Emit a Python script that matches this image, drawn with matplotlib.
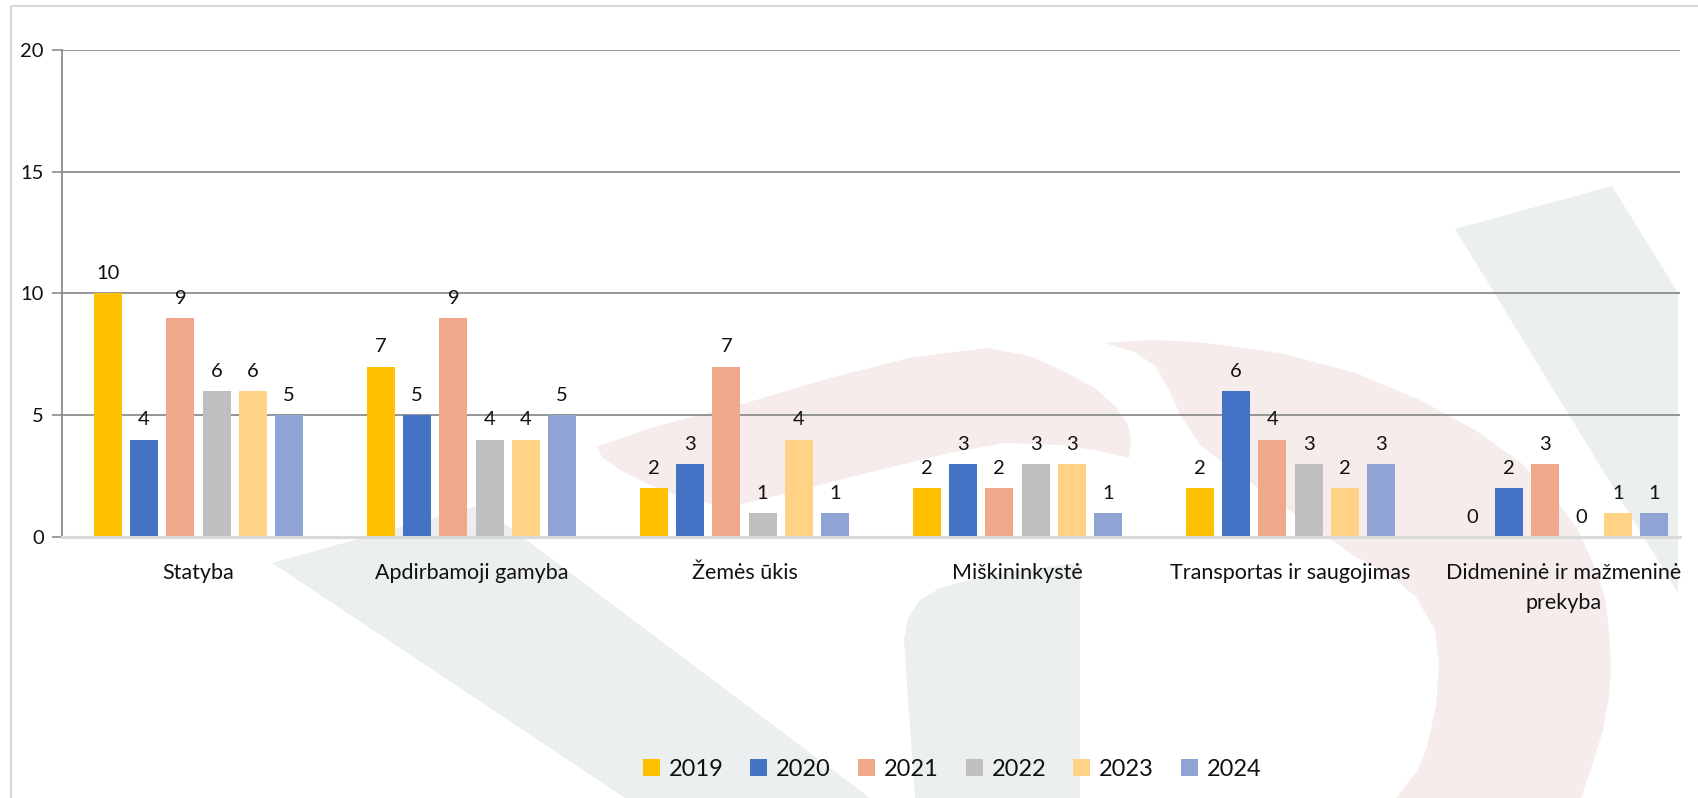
import matplotlib
matplotlib.use("Agg")
import matplotlib.pyplot as plt
from matplotlib.patches import Polygon, Rectangle
import numpy as np

plt.rcParams['font.family'] = ['Lato', 'DejaVu Sans']

categories = ["Statyba", "Apdirbamoji gamyba", "Žemės ūkis", "Miškininkystė",
              "Transportas ir saugojimas", "Didmeninė ir mažmeninė\nprekyba"]
years = ["2019", "2020", "2021", "2022", "2023", "2024"]
v2019 = [10, 7, 2, 2, 2, 0]
v2020 = [4, 5, 3, 3, 6, 2]
v2021 = [9, 9, 7, 2, 4, 3]
v2022 = [6, 4, 1, 3, 3, 0]
v2023 = [6, 4, 4, 3, 2, 1]
v2024 = [5, 5, 1, 1, 3, 1]
series = [v2019, v2020, v2021, v2022, v2023, v2024]
colors = ["#FFC000", "#4472C4", "#F0A88A", "#BFBFBF", "#FFD285", "#8FA3D4"]
yticks = [0, 5, 10, 15, 20]

W, H = 1699, 798
fig = plt.figure(figsize=(W / 100, H / 100), dpi=100)

# background watermark (pixel coordinates)
bg = fig.add_axes([0, 0, 1, 1], zorder=0)
bg.set_xlim(0, W)
bg.set_ylim(H, 0)
bg.axis('off')
gray_wm = "#ECEFF0"
pink_wm = "#F7ECEC"
arc1 = [(597, 447), (650, 428), (746, 403), (830, 378), (913, 357), (987, 348), (1030, 356),
        (1061, 370), (1095, 388), (1116, 407), (1128, 425), (1131, 440), (1129, 458),
        (1095, 450), (1061, 445), (1005, 443), (950, 453), (900, 465), (839, 480), (780, 495),
        (728, 507), (690, 500), (654, 487), (620, 470), (602, 457)]
arc2 = [(1104, 343), (1150, 340), (1198, 342), (1280, 353), (1356, 373), (1420, 400), (1475, 430),
        (1520, 462), (1554, 497), (1578, 530), (1593, 563), (1605, 597), (1609, 630), (1611, 665),
        (1609, 697), (1603, 730), (1593, 763), (1581, 798), (1396, 798), (1418, 770), (1427, 747),
        (1436, 705), (1439, 663), (1435, 630), (1416, 597), (1390, 575), (1356, 557), (1300, 518),
        (1240, 475), (1200, 445), (1179, 413), (1168, 388), (1155, 366), (1135, 352)]
shapes = [
    ([(272, 563), (480, 505), (870, 798), (625, 798)], gray_wm),
    ([(1455, 229), (1612, 186), (1678, 293), (1678, 593)], gray_wm),
    ([(904, 640), (908, 618), (920, 600), (940, 588), (990, 574), (1080, 563), (1080, 798), (915, 798)], gray_wm),
    (arc1, pink_wm),
    (arc2, pink_wm),
]
for pts, c in shapes:
    bg.add_patch(Polygon(pts, closed=True, facecolor=c, edgecolor='none'))
bg.add_patch(Rectangle((11, 6), W, H, facecolor='none', edgecolor='#D9D9D9', linewidth=1.5))

# main axes
left, right, top, bottom = 62, 1680, 50, 537
ax = fig.add_axes([left / W, 1 - bottom / H, (right - left) / W, (bottom - top) / H], zorder=1)
ax.set_facecolor('none')

x = np.arange(len(categories))
step = 0.133
width = 0.102
for i, (vals, col, yr) in enumerate(zip(series, colors, years)):
    xs = x + (i - 2.5) * step
    ax.bar(xs, vals, width=width, color=col, label=yr, zorder=3)
    for xi, v in zip(xs, vals):
        ax.annotate(str(v), (xi, v), xytext=(0, 8), textcoords='offset points',
                    ha='center', va='bottom', fontsize=14.5, color='#111111')

ax.set_xlim(-0.5, 5.427)
ax.set_ylim(0, 20)
ax.set_yticks(yticks)
ax.set_yticklabels([str(t) for t in yticks], fontsize=14.5, color='#111111')
ax.yaxis.grid(True, color='#8C8C8C', linewidth=1.3, zorder=0)
ax.set_axisbelow(True)
ax.tick_params(axis='y', length=7, width=1.2, color='#8C8C8C', pad=6)
ax.set_xticks(x)
ax.set_xticklabels(categories, fontsize=15.5, color='#111111', linespacing=1.6)
ax.tick_params(axis='x', length=0, pad=19)
for s in ['top', 'right']:
    ax.spines[s].set_visible(False)
ax.spines['left'].set_color('#8C8C8C')
ax.spines['left'].set_linewidth(1.3)
ax.spines['bottom'].set_color('#D9D9D9')
ax.spines['bottom'].set_linewidth(2.2)
ax.spines['bottom'].set_zorder(4)

leg = fig.legend(loc='center', bbox_to_anchor=(952 / W, 1 - 769 / H), ncol=6, frameon=False,
                 fontsize=17, handlelength=0.72, handleheight=0.72, handletextpad=0.38,
                 columnspacing=1.14, borderpad=0)
for t in leg.get_texts():
    t.set_color('#111111')

fig.savefig("out.png", dpi=100)
